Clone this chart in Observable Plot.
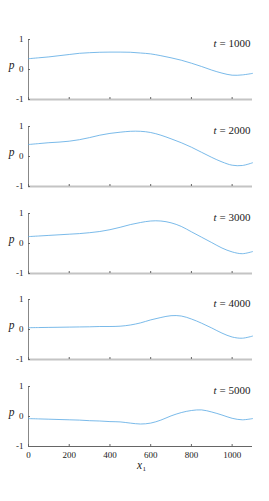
<!DOCTYPE html>
<html><head><meta charset="utf-8">
<script src="https://cdn.jsdelivr.net/npm/d3@7"></script>
<script src="https://cdn.jsdelivr.net/npm/@observablehq/plot@0.6"></script>
<style>
body{margin:0;background:#fff;}
#chart{position:relative;width:269px;height:501px;}
#chart svg{position:absolute;left:0;}
</style>
</head><body><div id="chart"></div>
<script>
const xGrid = [0,50,100,150,200,250,300,350,400,450,500,550,600,650,700,750,800,850,900,950,1000,1050,1100];
const times = [1000,2000,3000,4000,5000];
const p1000 = [0.36,0.39,0.42,0.46,0.50,0.54,0.56,0.575,0.58,0.58,0.575,0.55,0.52,0.46,0.39,0.31,0.21,0.10,-0.02,-0.12,-0.19,-0.18,-0.13];
const p2000 = [0.40,0.43,0.46,0.48,0.51,0.56,0.63,0.71,0.77,0.81,0.84,0.84,0.80,0.71,0.59,0.46,0.31,0.14,-0.03,-0.18,-0.29,-0.30,-0.21];
const p3000 = [0.23,0.25,0.27,0.29,0.31,0.33,0.36,0.40,0.46,0.54,0.63,0.70,0.75,0.75,0.69,0.57,0.39,0.21,0.03,-0.15,-0.28,-0.34,-0.27];
const p4000 = [0.06,0.065,0.07,0.075,0.08,0.085,0.09,0.10,0.10,0.11,0.15,0.22,0.32,0.40,0.46,0.45,0.35,0.21,0.05,-0.12,-0.25,-0.29,-0.22];
const p5000 = [-0.07,-0.08,-0.09,-0.10,-0.11,-0.12,-0.14,-0.15,-0.17,-0.18,-0.22,-0.25,-0.22,-0.12,0.02,0.13,0.20,0.22,0.15,0.05,-0.06,-0.11,-0.07];
const xTicks = [0,200,400,600,800,1000];
const yTicks = [-1,0,1];
const series = [p1000,p2000,p3000,p4000,p5000];

const chart = document.getElementById("chart");
const top0 = 39.3, pitch = 86.6, plotH = 60;
series.forEach((ps, i) => {
  const last = i === series.length - 1;
  const data = xGrid.map((x, j) => ({x, p: ps[j]}));
  const mt = 10, mb = last ? 40 : 6;
  const svg = Plot.plot({
    width: 269, height: mt + plotH + mb,
    marginTop: mt, marginBottom: mb, marginLeft: 28, marginRight: 17,
    style: {fontFamily: "'Liberation Serif', 'DejaVu Serif', serif", fontSize: "9px", background: "transparent", color: "#222"},
    x: {domain: [0, 1100]},
    y: {domain: [-1, 1]},
    marks: [
      Plot.ruleY([-1], {stroke: last ? "#666" : "#c4c4c4", strokeWidth: last ? 1 : 2}),
      Plot.ruleX([0], {stroke: "#888", strokeWidth: 1}),
      Plot.axisX(xTicks, {anchor: "bottom", tickSize: -2, tickPadding: 7, stroke: "#666", label: null,
        tickFormat: last ? (d => String(d)) : (() => "")}),
      Plot.axisY(yTicks, {anchor: "left", tickSize: -2, tickPadding: 7, stroke: "#666", label: null,
        tickFormat: d => String(d)}),
      Plot.line(data, {x: "x", y: "p", stroke: "#58a8e3", strokeWidth: 0.8, curve: "catmull-rom"}),
      Plot.text([`= ${times[i]}`], {frameAnchor: "top-right", textAnchor: "end", lineAnchor: "middle", dx: -2, dy: 3.5, fontSize: 11}),
      Plot.text(["t"], {frameAnchor: "top-right", textAnchor: "end", lineAnchor: "middle", dx: -36, dy: 3.5, fontSize: 11, fontStyle: "italic"}),
      Plot.text(["p"], {frameAnchor: "left", textAnchor: "middle", lineAnchor: "middle", dx: -17, dy: -4, fontSize: 11.5, fontStyle: "italic"}),
      ...(last ? [
        Plot.text(["x"], {frameAnchor: "bottom", textAnchor: "middle", lineAnchor: "middle", dy: 19, dx: -1, fontSize: 11.5, fontStyle: "italic"}),
        Plot.text(["1"], {frameAnchor: "bottom", textAnchor: "start", lineAnchor: "middle", dy: 22, dx: 2, fontSize: 7})
      ] : [])
    ]
  });
  svg.style.top = (top0 + i * pitch - mt) + "px";
  chart.appendChild(svg);
});
</script>
</body></html>
